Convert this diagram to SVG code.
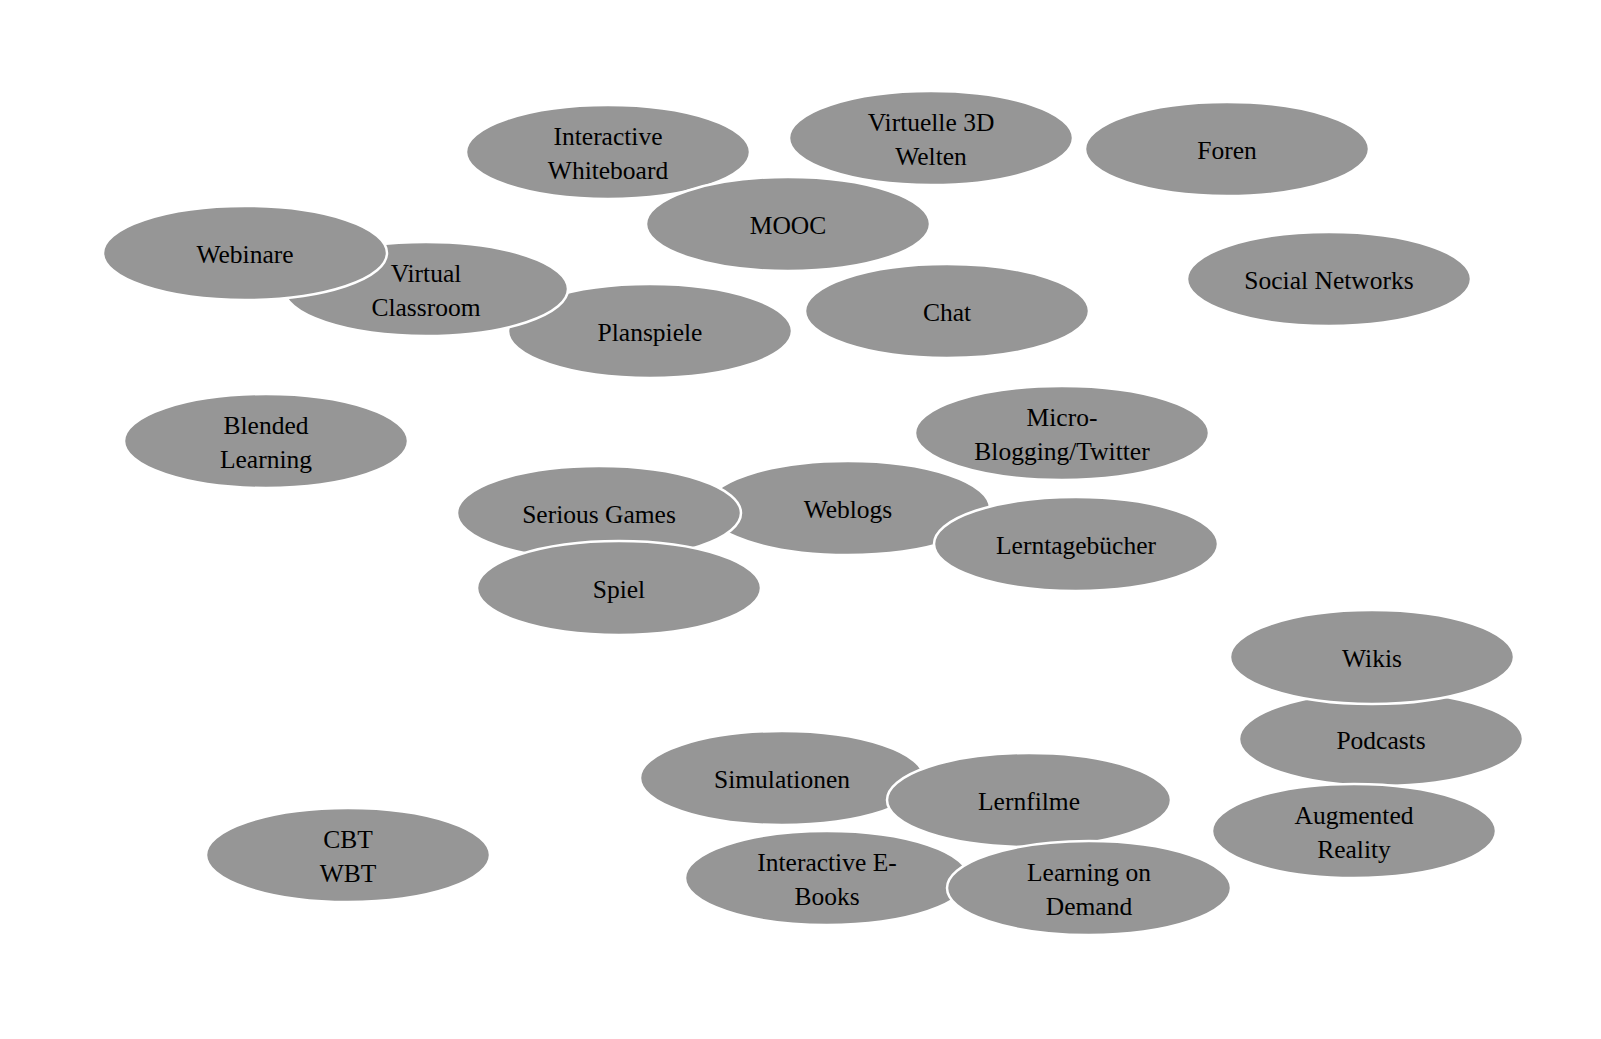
<svg xmlns="http://www.w3.org/2000/svg" width="1601" height="1039" viewBox="0 0 1601 1039">
<style>
.n ellipse{fill:#969696;stroke:#ffffff;stroke-width:2.5}
.n text{font-family:"Liberation Serif","Times New Roman",serif;font-size:25.5px;fill:#000;text-anchor:middle}
</style>
<rect width="1601" height="1039" fill="#ffffff"/>
<g id="connectors"></g>
<g id="n-iw" class="n"><ellipse cx="608" cy="152" rx="142" ry="47"/><text x="608" y="145">Interactive</text><text x="608" y="179">Whiteboard</text></g>
<g id="n-v3d" class="n"><ellipse cx="931" cy="138" rx="142" ry="47"/><text x="931" y="131">Virtuelle 3D</text><text x="931" y="165">Welten</text></g>
<g id="n-foren" class="n"><ellipse cx="1227" cy="149" rx="142" ry="47"/><text x="1227" y="159">Foren</text></g>
<g id="n-mooc" class="n"><ellipse cx="788" cy="224" rx="142" ry="47"/><text x="788" y="234">MOOC</text></g>
<g id="n-chat" class="n"><ellipse cx="947" cy="311" rx="142" ry="47"/><text x="947" y="321">Chat</text></g>
<g id="n-plan" class="n"><ellipse cx="650" cy="331" rx="142" ry="47"/><text x="650" y="341">Planspiele</text></g>
<g id="n-vc" class="n"><ellipse cx="426" cy="289" rx="142" ry="47"/><text x="426" y="282">Virtual</text><text x="426" y="316">Classroom</text></g>
<g id="n-web" class="n"><ellipse cx="245" cy="253" rx="142" ry="47"/><text x="245" y="263">Webinare</text></g>
<g id="n-sn" class="n"><ellipse cx="1329" cy="279" rx="142" ry="47"/><text x="1329" y="289">Social Networks</text></g>
<g id="n-bl" class="n"><ellipse cx="266" cy="441" rx="142" ry="47"/><text x="266" y="434">Blended</text><text x="266" y="468">Learning</text></g>
<g id="n-micro" class="n"><ellipse cx="1062" cy="433" rx="147" ry="47"/><text x="1062" y="426">Micro-</text><text x="1062" y="460">Blogging/Twitter</text></g>
<g id="n-weblogs" class="n"><ellipse cx="848" cy="508" rx="142" ry="47"/><text x="848" y="518">Weblogs</text></g>
<g id="n-lern" class="n"><ellipse cx="1076" cy="544" rx="142" ry="47"/><text x="1076" y="554">Lerntagebücher</text></g>
<g id="n-sg" class="n"><ellipse cx="599" cy="513" rx="142" ry="47"/><text x="599" y="523">Serious Games</text></g>
<g id="n-spiel" class="n"><ellipse cx="619" cy="588" rx="142" ry="47"/><text x="619" y="598">Spiel</text></g>
<g id="n-pod" class="n"><ellipse cx="1381" cy="739" rx="142" ry="47"/><text x="1381" y="749">Podcasts</text></g>
<g id="n-wikis" class="n"><ellipse cx="1372" cy="657" rx="142" ry="47"/><text x="1372" y="667">Wikis</text></g>
<g id="n-ar" class="n"><ellipse cx="1354" cy="831" rx="142" ry="47"/><text x="1354" y="824">Augmented</text><text x="1354" y="858">Reality</text></g>
<g id="n-sim" class="n"><ellipse cx="782" cy="778" rx="142" ry="47"/><text x="782" y="788">Simulationen</text></g>
<g id="n-ebook" class="n"><ellipse cx="827" cy="878" rx="142" ry="47"/><text x="827" y="871">Interactive E-</text><text x="827" y="905">Books</text></g>
<g id="n-film" class="n"><ellipse cx="1029" cy="800" rx="142" ry="47"/><text x="1029" y="810">Lernfilme</text></g>
<g id="n-lod" class="n"><ellipse cx="1089" cy="888" rx="142" ry="47"/><text x="1089" y="881">Learning on</text><text x="1089" y="915">Demand</text></g>
<g id="n-cbt" class="n"><ellipse cx="348" cy="855" rx="142" ry="47"/><text x="348" y="848">CBT</text><text x="348" y="882">WBT</text></g>
</svg>
